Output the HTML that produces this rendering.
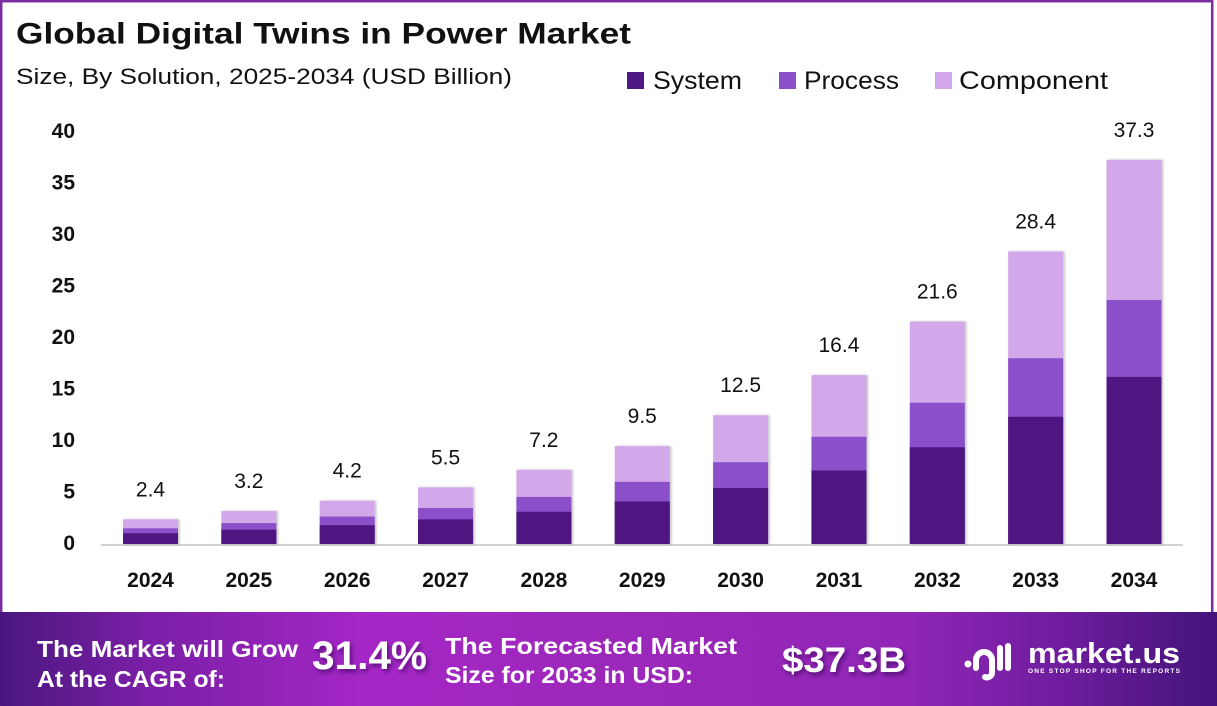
<!DOCTYPE html>
<html>
<head>
<meta charset="utf-8">
<style>
  html,body{margin:0;padding:0;background:#fff;}
  svg{display:block;}
  text{font-family:"Liberation Sans",sans-serif;}
</style>
</head>
<body>
<svg width="1217" height="706" viewBox="0 0 1217 706" xmlns="http://www.w3.org/2000/svg">
  <defs>
    <linearGradient id="fg" x1="0" y1="0" x2="1" y2="0">
      <stop offset="0" stop-color="#4a177e"/>
      <stop offset="0.12" stop-color="#7a1fa6"/>
      <stop offset="0.3" stop-color="#a526c6"/>
      <stop offset="0.5" stop-color="#9c28ba"/>
      <stop offset="0.75" stop-color="#9025b6"/>
      <stop offset="0.88" stop-color="#6c1c9c"/>
      <stop offset="1" stop-color="#43147a"/>
    </linearGradient>
    <filter id="sh" x="-10%" y="-10%" width="130%" height="130%">
      <feDropShadow dx="1.5" dy="0" stdDeviation="1.2" flood-color="#000" flood-opacity="0.25"/>
    </filter>
    <filter id="tsh" x="-10%" y="-20%" width="130%" height="160%">
      <feDropShadow dx="2" dy="3" stdDeviation="2" flood-color="#2a0650" flood-opacity="0.6"/>
    </filter>
  </defs>

  <rect width="1217" height="706" fill="#fff"/>
  <!-- frame -->
  <rect x="1.2" y="1.2" width="1211" height="640" fill="none" stroke="#7b2d9f" stroke-width="2.5"/>

  <!-- title -->
  <text x="16" y="43.5" font-size="30" font-weight="bold" fill="#111" textLength="615" lengthAdjust="spacingAndGlyphs">Global Digital Twins in Power Market</text>
  <text x="16" y="84" font-size="22" fill="#111" textLength="496" lengthAdjust="spacingAndGlyphs">Size, By Solution, 2025-2034 (USD Billion)</text>

  <!-- legend -->
  <rect x="627" y="72" width="17" height="17" fill="#4f1781"/>
  <text x="653" y="89" font-size="25" fill="#111" textLength="89" lengthAdjust="spacingAndGlyphs">System</text>
  <rect x="779" y="72" width="17" height="17" fill="#8c4fca"/>
  <text x="804" y="89" font-size="25" fill="#111" textLength="95" lengthAdjust="spacingAndGlyphs">Process</text>
  <rect x="935" y="72" width="17" height="17" fill="#d3a8ea"/>
  <text x="959" y="89" font-size="25" fill="#111" textLength="149" lengthAdjust="spacingAndGlyphs">Component</text>

  <!-- y ticks -->
  <g font-size="21" font-weight="bold" fill="#111" text-anchor="end">
    <text x="75" y="550">0</text>
    <text x="75" y="498.5">5</text>
    <text x="75" y="447">10</text>
    <text x="75" y="395.5">15</text>
    <text x="75" y="344">20</text>
    <text x="75" y="292.5">25</text>
    <text x="75" y="241">30</text>
    <text x="75" y="189.5">35</text>
    <text x="75" y="138">40</text>
  </g>

  <!-- axis line -->
  <line x1="101" y1="545" x2="1183" y2="545" stroke="#d2d2d2" stroke-width="2"/>

  <!-- bars -->
  <g filter="url(#sh)">
    <rect x="123" y="519.28" width="55" height="24.72" fill="#d3a8ea"/>
    <rect x="123" y="528.3" width="55" height="15.7" fill="#8c4fca"/>
    <rect x="123" y="533.25" width="55" height="10.75" fill="#4f1781"/>

    <rect x="221.35" y="511.04" width="55" height="32.96" fill="#d3a8ea"/>
    <rect x="221.35" y="523.07" width="55" height="20.93" fill="#8c4fca"/>
    <rect x="221.35" y="529.66" width="55" height="14.34" fill="#4f1781"/>

    <rect x="319.7" y="500.74" width="55" height="43.26" fill="#d3a8ea"/>
    <rect x="319.7" y="516.53" width="55" height="27.47" fill="#8c4fca"/>
    <rect x="319.7" y="525.18" width="55" height="18.82" fill="#4f1781"/>

    <rect x="418.05" y="487.35" width="55" height="56.65" fill="#d3a8ea"/>
    <rect x="418.05" y="508.03" width="55" height="35.97" fill="#8c4fca"/>
    <rect x="418.05" y="519.36" width="55" height="24.64" fill="#4f1781"/>

    <rect x="516.4" y="469.84" width="55" height="74.16" fill="#d3a8ea"/>
    <rect x="516.4" y="496.91" width="55" height="47.09" fill="#8c4fca"/>
    <rect x="516.4" y="511.74" width="55" height="32.26" fill="#4f1781"/>

    <rect x="614.75" y="446.15" width="55" height="97.85" fill="#d3a8ea"/>
    <rect x="614.75" y="481.87" width="55" height="62.13" fill="#8c4fca"/>
    <rect x="614.75" y="501.44" width="55" height="42.56" fill="#4f1781"/>

    <rect x="713.1" y="415.25" width="55" height="128.75" fill="#d3a8ea"/>
    <rect x="713.1" y="462.24" width="55" height="81.76" fill="#8c4fca"/>
    <rect x="713.1" y="487.99" width="55" height="56.01" fill="#4f1781"/>

    <rect x="811.45" y="375.08" width="55" height="168.92" fill="#d3a8ea"/>
    <rect x="811.45" y="436.74" width="55" height="107.26" fill="#8c4fca"/>
    <rect x="811.45" y="470.52" width="55" height="73.48" fill="#4f1781"/>

    <rect x="909.8" y="321.52" width="55" height="222.48" fill="#d3a8ea"/>
    <rect x="909.8" y="402.72" width="55" height="141.28" fill="#8c4fca"/>
    <rect x="909.8" y="447.22" width="55" height="96.78" fill="#4f1781"/>

    <rect x="1008.15" y="251.48" width="55" height="292.52" fill="#d3a8ea"/>
    <rect x="1008.15" y="358.25" width="55" height="185.75" fill="#8c4fca"/>
    <rect x="1008.15" y="416.75" width="55" height="127.25" fill="#4f1781"/>

    <rect x="1106.5" y="159.81" width="55" height="384.19" fill="#d3a8ea"/>
    <rect x="1106.5" y="300.04" width="55" height="243.96" fill="#8c4fca"/>
    <rect x="1106.5" y="376.88" width="55" height="167.12" fill="#4f1781"/>
  </g>

  <!-- value labels -->
  <g font-size="21" fill="#111" text-anchor="middle">
    <text x="150.5" y="496.3">2.4</text>
    <text x="248.85" y="488">3.2</text>
    <text x="347.2" y="477.7">4.2</text>
    <text x="445.55" y="464.3">5.5</text>
    <text x="543.9" y="446.8">7.2</text>
    <text x="642.25" y="423.1">9.5</text>
    <text x="740.6" y="392.2">12.5</text>
    <text x="838.95" y="352">16.4</text>
    <text x="937.3" y="298.5">21.6</text>
    <text x="1035.65" y="228.5">28.4</text>
    <text x="1134" y="136.8">37.3</text>
  </g>

  <!-- year labels -->
  <g font-size="21" font-weight="bold" fill="#111" text-anchor="middle">
    <text x="150.5" y="587">2024</text>
    <text x="248.85" y="587">2025</text>
    <text x="347.2" y="587">2026</text>
    <text x="445.55" y="587">2027</text>
    <text x="543.9" y="587">2028</text>
    <text x="642.25" y="587">2029</text>
    <text x="740.6" y="587">2030</text>
    <text x="838.95" y="587">2031</text>
    <text x="937.3" y="587">2032</text>
    <text x="1035.65" y="587">2033</text>
    <text x="1134" y="587">2034</text>
  </g>

  <!-- footer -->
  <rect x="0" y="612" width="1217" height="94" fill="url(#fg)"/>
  <g fill="#fff" font-weight="bold">
    <text x="37" y="657" font-size="23" textLength="261" lengthAdjust="spacingAndGlyphs">The Market will Grow</text>
    <text x="37" y="687" font-size="23" textLength="188" lengthAdjust="spacingAndGlyphs">At the CAGR of:</text>
    <text x="312" y="669" font-size="40" textLength="115" lengthAdjust="spacingAndGlyphs" filter="url(#tsh)">31.4%</text>
    <text x="445" y="654" font-size="23" textLength="292" lengthAdjust="spacingAndGlyphs">The Forecasted Market</text>
    <text x="445" y="683" font-size="23" textLength="248" lengthAdjust="spacingAndGlyphs">Size for 2033 in USD:</text>
    <text x="782" y="672" font-size="35" textLength="124" lengthAdjust="spacingAndGlyphs" filter="url(#tsh)">$37.3B</text>
  </g>

  <!-- logo -->
  <g fill="none" stroke="#fff" stroke-linecap="round">
    <circle cx="968" cy="664" r="3.5" fill="#fff" stroke="none"/>
    <path d="M976 668 L976 660 A8 8 0 0 1 992 660 L992 672 A5 5 0 0 1 985 677" stroke-width="6"/>
    <line x1="1000" y1="648" x2="1000" y2="668" stroke-width="6"/>
    <line x1="1008" y1="646" x2="1008" y2="668" stroke-width="6"/>
  </g>
  <text x="1028" y="663" font-size="29" font-weight="bold" fill="#fff" textLength="152" lengthAdjust="spacingAndGlyphs">market.us</text>
  <text x="1028" y="673" font-size="6.5" font-weight="bold" fill="#fff" textLength="152" lengthAdjust="spacing">ONE STOP SHOP FOR THE REPORTS</text>
</svg>
</body>
</html>
